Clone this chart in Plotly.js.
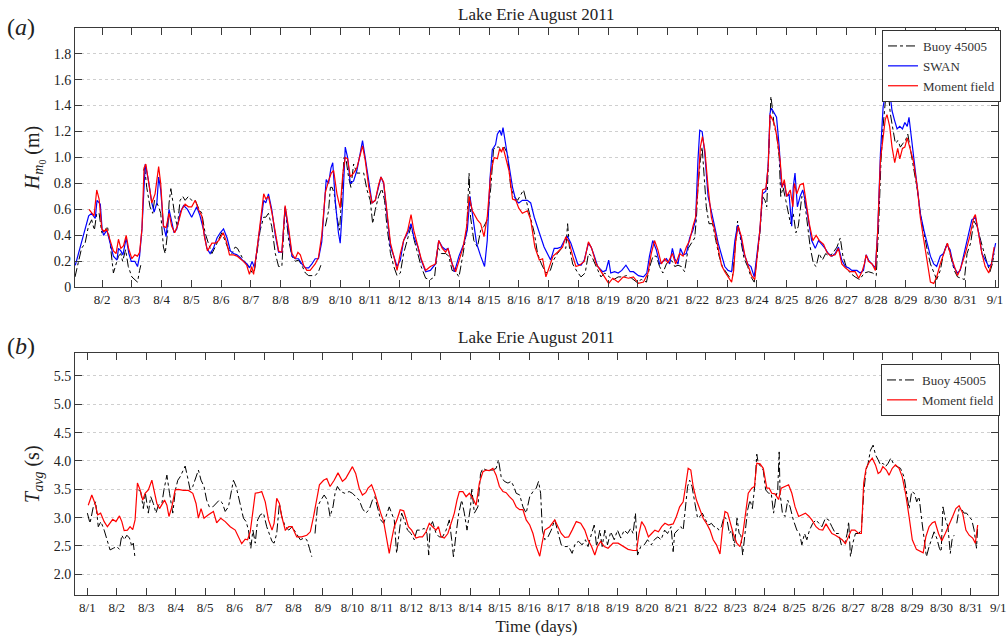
<!DOCTYPE html>
<html>
<head>
<meta charset="utf-8">
<script src="https://cdn.plot.ly/plotly-3.0.1.min.js"></script>
<style>
  html, body { margin: 0; padding: 0; background: #fff; }
  #chart { width: 1007px; height: 638px; }
</style>
</head>
<body>
<div id="chart"></div>
<script>
// ---- Data (x = days since 8/1 00:00) ----
const chartTitle = "Lake Erie August 2011";
const topTickVals = [1,2,3,4,5,6,7,8,9,10,11,12,13,14,15,16,17,18,19,20,21,22,23,24,25,26,27,28,29,30,31];
const topTickText = ["8/2","8/3","8/4","8/5","8/6","8/7","8/8","8/9","8/10","8/11","8/12","8/13","8/14","8/15","8/16","8/17","8/18","8/19","8/20","8/21","8/22","8/23","8/24","8/25","8/26","8/27","8/28","8/29","8/30","8/31","9/1"];
const botTickVals = [0,1,2,3,4,5,6,7,8,9,10,11,12,13,14,15,16,17,18,19,20,21,22,23,24,25,26,27,28,29,30];
const botTickText = ["8/1","8/2","8/3","8/4","8/5","8/6","8/7","8/8","8/9","8/10","8/11","8/12","8/13","8/14","8/15","8/16","8/17","8/18","8/19","8/20","8/21","8/22","8/23","8/24","8/25","8/26","8/27","8/28","8/29","8/30","8/31"];
const botLastTickText = "9/1";
const hTickVals = [0,0.2,0.4,0.6,0.8,1.0,1.2,1.4,1.6,1.8];
const hTickText = ["0","0.2","0.4","0.6","0.8","1.0","1.2","1.4","1.6","1.8"];
const tTickVals = [2.0,2.5,3.0,3.5,4.0,4.5,5.0,5.5];
const tTickText = ["2.0","2.5","3.0","3.5","4.0","4.5","5.0","5.5"];

// Panel (a): significant wave height Hm0 (m)
const hSwan = [[0.1,0.17],[0.25,0.3],[0.38,0.4],[0.55,0.55],[0.65,0.57],[0.77,0.53],[0.83,0.67],[0.94,0.64],[1.0,0.45],[1.05,0.4],[1.16,0.44],[1.27,0.35],[1.38,0.24],[1.5,0.21],[1.55,0.3],[1.63,0.28],[1.7,0.25],[1.81,0.38],[1.9,0.26],[1.98,0.2],[2.1,0.2],[2.19,0.16],[2.26,0.24],[2.34,0.45],[2.45,0.95],[2.56,0.82],[2.67,0.65],[2.75,0.58],[2.84,0.65],[2.9,0.85],[2.97,0.75],[3.06,0.48],[3.15,0.39],[3.25,0.6],[3.34,0.5],[3.42,0.42],[3.51,0.45],[3.63,0.58],[3.74,0.63],[3.87,0.6],[4.01,0.54],[4.13,0.6],[4.18,0.62],[4.29,0.55],[4.4,0.45],[4.52,0.3],[4.63,0.26],[4.74,0.3],[4.86,0.38],[4.97,0.42],[5.08,0.45],[5.2,0.38],[5.31,0.28],[5.42,0.26],[5.53,0.25],[5.64,0.23],[5.75,0.2],[5.87,0.18],[5.96,0.15],[6.04,0.2],[6.12,0.15],[6.21,0.3],[6.32,0.5],[6.43,0.67],[6.5,0.65],[6.59,0.72],[6.7,0.6],[6.82,0.4],[6.93,0.27],[7.04,0.27],[7.15,0.62],[7.27,0.4],[7.38,0.24],[7.49,0.22],[7.6,0.22],[7.71,0.18],[7.83,0.15],[7.94,0.15],[8.05,0.18],[8.16,0.22],[8.27,0.22],[8.38,0.35],[8.53,0.83],[8.61,0.8],[8.69,0.92],[8.75,0.96],[8.84,0.65],[8.94,0.42],[9.0,0.34],[9.09,0.67],[9.17,1.08],[9.25,1.0],[9.34,0.8],[9.45,0.82],[9.56,0.9],[9.67,1.03],[9.75,1.13],[9.84,1.0],[9.96,0.8],[10.07,0.65],[10.18,0.67],[10.29,0.77],[10.37,0.85],[10.46,0.8],[10.57,0.54],[10.69,0.31],[10.8,0.24],[10.91,0.16],[11.02,0.21],[11.13,0.36],[11.27,0.42],[11.38,0.49],[11.47,0.39],[11.61,0.31],[11.72,0.21],[11.87,0.12],[12.03,0.13],[12.2,0.18],[12.31,0.36],[12.43,0.31],[12.54,0.29],[12.62,0.3],[12.73,0.21],[12.84,0.12],[12.99,0.24],[13.16,0.34],[13.27,0.44],[13.36,0.7],[13.47,0.52],[13.58,0.34],[13.72,0.24],[13.85,0.16],[13.94,0.36],[14.03,0.83],[14.11,1.06],[14.22,1.1],[14.28,1.18],[14.36,1.21],[14.42,1.17],[14.47,1.23],[14.56,1.1],[14.67,0.95],[14.79,0.77],[14.9,0.67],[15.0,0.65],[15.12,0.67],[15.29,0.67],[15.4,0.65],[15.52,0.54],[15.69,0.42],[15.85,0.31],[16.07,0.21],[16.19,0.3],[16.3,0.3],[16.42,0.31],[16.53,0.36],[16.64,0.39],[16.75,0.34],[16.87,0.26],[16.98,0.18],[17.09,0.17],[17.2,0.21],[17.34,0.34],[17.43,0.31],[17.54,0.24],[17.65,0.16],[17.82,0.12],[17.93,0.13],[18.02,0.21],[18.09,0.11],[18.22,0.12],[18.34,0.11],[18.46,0.13],[18.6,0.17],[18.74,0.12],[18.85,0.12],[19.02,0.09],[19.19,0.08],[19.3,0.11],[19.39,0.24],[19.5,0.36],[19.62,0.29],[19.73,0.18],[19.84,0.2],[19.96,0.22],[20.07,0.18],[20.16,0.3],[20.24,0.22],[20.35,0.18],[20.43,0.3],[20.52,0.25],[20.63,0.26],[20.74,0.38],[20.85,0.44],[20.94,0.52],[21.02,0.98],[21.08,1.21],[21.16,1.2],[21.25,1.03],[21.36,0.7],[21.47,0.57],[21.58,0.47],[21.7,0.34],[21.81,0.24],[21.92,0.16],[22.03,0.13],[22.15,0.12],[22.26,0.36],[22.35,0.48],[22.46,0.39],[22.57,0.26],[22.69,0.18],[22.8,0.16],[22.91,0.08],[23.02,0.31],[23.1,0.44],[23.19,0.72],[23.3,0.74],[23.38,0.95],[23.44,1.34],[23.49,1.38],[23.57,1.35],[23.66,1.31],[23.75,1.08],[23.83,0.77],[23.91,0.81],[24.0,0.7],[24.08,0.72],[24.17,0.47],[24.22,0.77],[24.28,0.88],[24.36,0.62],[24.45,0.7],[24.54,0.75],[24.62,0.67],[24.73,0.52],[24.84,0.36],[24.96,0.3],[25.07,0.36],[25.18,0.33],[25.29,0.3],[25.4,0.26],[25.52,0.24],[25.63,0.26],[25.74,0.31],[25.85,0.21],[25.97,0.16],[26.08,0.15],[26.19,0.13],[26.36,0.13],[26.47,0.11],[26.58,0.13],[26.67,0.25],[26.75,0.21],[26.87,0.18],[26.98,0.15],[27.06,0.44],[27.15,1.03],[27.24,1.39],[27.31,1.49],[27.37,1.56],[27.45,1.53],[27.54,1.36],[27.62,1.29],[27.71,1.22],[27.8,1.24],[27.89,1.22],[27.97,1.27],[28.05,1.24],[28.11,1.31],[28.19,1.16],[28.28,0.98],[28.39,0.77],[28.49,0.57],[28.61,0.44],[28.72,0.34],[28.83,0.24],[28.94,0.18],[29.04,0.16],[29.16,0.24],[29.27,0.26],[29.38,0.33],[29.49,0.29],[29.61,0.16],[29.74,0.11],[29.83,0.13],[29.94,0.24],[30.06,0.34],[30.22,0.52],[30.34,0.54],[30.45,0.42],[30.56,0.26],[30.67,0.21],[30.79,0.16],[30.88,0.18],[30.94,0.26],[31.02,0.34]];

const hMoment = [[0.56,0.6],[0.65,0.57],[0.73,0.55],[0.82,0.75],[0.9,0.68],[0.99,0.45],[1.07,0.43],[1.15,0.45],[1.27,0.36],[1.38,0.28],[1.47,0.26],[1.55,0.37],[1.63,0.3],[1.72,0.32],[1.81,0.4],[1.89,0.3],[2.0,0.22],[2.1,0.25],[2.19,0.24],[2.26,0.27],[2.34,0.45],[2.41,0.92],[2.47,0.95],[2.56,0.83],[2.67,0.65],[2.78,0.72],[2.9,0.93],[2.97,0.8],[3.06,0.47],[3.15,0.46],[3.25,0.57],[3.34,0.47],[3.44,0.42],[3.54,0.48],[3.68,0.6],[3.79,0.64],[3.9,0.62],[4.01,0.62],[4.13,0.67],[4.24,0.6],[4.35,0.55],[4.43,0.4],[4.54,0.28],[4.69,0.34],[4.81,0.34],[4.92,0.36],[5.07,0.42],[5.18,0.35],[5.28,0.25],[5.42,0.25],[5.53,0.24],[5.64,0.22],[5.75,0.2],[5.86,0.17],[5.95,0.1],[6.03,0.16],[6.09,0.1],[6.21,0.3],[6.32,0.5],[6.43,0.72],[6.5,0.68],[6.59,0.7],[6.71,0.57],[6.82,0.42],[6.93,0.28],[7.04,0.27],[7.15,0.63],[7.27,0.45],[7.38,0.26],[7.49,0.22],[7.58,0.27],[7.66,0.25],[7.77,0.17],[7.88,0.13],[7.99,0.13],[8.16,0.18],[8.27,0.23],[8.38,0.4],[8.5,0.73],[8.61,0.82],[8.7,0.88],[8.78,0.9],[8.89,0.72],[9.0,0.61],[9.09,0.88],[9.17,1.0],[9.25,0.99],[9.34,0.85],[9.45,0.88],[9.56,0.92],[9.67,1.03],[9.75,1.09],[9.84,0.98],[9.96,0.77],[10.07,0.65],[10.18,0.67],[10.29,0.79],[10.37,0.85],[10.46,0.81],[10.57,0.57],[10.69,0.34],[10.8,0.24],[10.91,0.13],[11.02,0.26],[11.13,0.36],[11.27,0.44],[11.38,0.56],[11.47,0.44],[11.61,0.31],[11.72,0.22],[11.87,0.13],[12.03,0.16],[12.2,0.18],[12.31,0.36],[12.43,0.3],[12.54,0.27],[12.62,0.3],[12.76,0.18],[12.88,0.12],[12.99,0.21],[13.13,0.31],[13.25,0.47],[13.33,0.7],[13.44,0.59],[13.61,0.52],[13.72,0.49],[13.83,0.39],[13.94,0.54],[14.06,0.88],[14.17,1.0],[14.28,0.99],[14.36,1.07],[14.42,1.04],[14.47,1.08],[14.56,1.0],[14.67,0.9],[14.79,0.68],[14.9,0.67],[15.0,0.61],[15.12,0.57],[15.29,0.59],[15.4,0.52],[15.54,0.31],[15.69,0.21],[15.8,0.22],[15.91,0.08],[16.03,0.16],[16.15,0.24],[16.3,0.27],[16.47,0.31],[16.58,0.39],[16.7,0.34],[16.81,0.24],[16.92,0.16],[17.04,0.17],[17.2,0.2],[17.34,0.35],[17.45,0.3],[17.6,0.18],[17.76,0.12],[17.88,0.08],[18.02,0.03],[18.16,0.07],[18.34,0.04],[18.51,0.08],[18.69,0.07],[18.85,0.08],[19.02,0.03],[19.19,0.04],[19.34,0.11],[19.45,0.26],[19.56,0.36],[19.67,0.29],[19.79,0.18],[19.9,0.22],[20.01,0.19],[20.16,0.26],[20.27,0.18],[20.4,0.26],[20.52,0.24],[20.63,0.31],[20.74,0.36],[20.85,0.47],[20.94,0.54],[21.02,0.77],[21.1,1.08],[21.17,1.16],[21.25,1.06],[21.36,0.77],[21.47,0.54],[21.58,0.44],[21.7,0.31],[21.81,0.17],[21.92,0.12],[22.03,0.08],[22.15,0.04],[22.22,0.13],[22.29,0.36],[22.37,0.47],[22.48,0.39],[22.6,0.24],[22.71,0.16],[22.82,0.09],[22.93,0.06],[23.02,0.29],[23.1,0.44],[23.19,0.75],[23.3,0.76],[23.38,0.93],[23.44,1.33],[23.53,1.29],[23.61,1.24],[23.69,1.13],[23.78,0.98],[23.85,0.77],[23.92,0.83],[24.0,0.7],[24.12,0.75],[24.21,0.62],[24.26,0.8],[24.34,0.72],[24.45,0.79],[24.56,0.8],[24.65,0.67],[24.76,0.49],[24.88,0.36],[24.99,0.4],[25.1,0.36],[25.24,0.33],[25.35,0.27],[25.48,0.24],[25.63,0.25],[25.74,0.3],[25.85,0.18],[25.97,0.15],[26.13,0.12],[26.3,0.12],[26.42,0.07],[26.53,0.12],[26.61,0.18],[26.67,0.25],[26.75,0.2],[26.87,0.18],[26.98,0.13],[27.06,0.44],[27.15,0.98],[27.24,1.18],[27.31,1.29],[27.37,1.33],[27.46,1.24],[27.54,1.08],[27.63,0.96],[27.73,1.07],[27.8,0.99],[27.89,1.07],[27.97,1.08],[28.05,1.15],[28.13,1.08],[28.25,0.98],[28.39,0.77],[28.49,0.54],[28.61,0.36],[28.72,0.18],[28.83,0.04],[28.94,0.03],[29.04,0.08],[29.16,0.18],[29.27,0.26],[29.4,0.34],[29.52,0.24],[29.63,0.16],[29.74,0.09],[29.85,0.15],[30.0,0.26],[30.15,0.39],[30.29,0.54],[30.34,0.56],[30.45,0.42],[30.56,0.26],[30.67,0.16],[30.79,0.11],[30.88,0.18],[30.97,0.31]];

const hBuoy = [[0.09,0.08],[0.2,0.18],[0.31,0.3],[0.43,0.34],[0.54,0.47],[0.65,0.52],[0.74,0.44],[0.82,0.57],[0.9,0.57],[0.99,0.42],[1.1,0.44],[1.18,0.47],[1.27,0.34],[1.38,0.11],[1.47,0.18],[1.55,0.24],[1.63,0.26],[1.69,0.2],[1.79,0.29],[1.88,0.16],[2.0,0.08],[2.1,0.06],[2.19,0.04],[2.26,0.13],[2.3,0.17],[2.33,null],[2.39,0.9],[2.43,0.92],[2.5,0.77],[2.56,0.67],[2.61,0.62],[2.7,0.57],[2.76,0.67],[2.84,0.65],[2.9,0.62],[2.97,0.57],[3.06,0.31],[3.12,0.26],[3.2,0.42],[3.25,0.65],[3.31,0.76],[3.37,0.67],[3.45,0.54],[3.53,0.47],[3.62,0.67],[3.71,0.7],[3.79,0.67],[3.9,0.7],[4.01,0.67],[4.13,0.67],[4.24,0.61],[4.35,0.57],[4.46,0.42],[4.57,0.34],[4.69,0.26],[4.8,0.31],[4.91,0.36],[5.02,0.42],[5.13,0.36],[5.25,0.29],[5.36,0.26],[5.47,0.31],[5.55,0.3],[5.64,0.26],[5.75,0.21],[5.86,0.18],[5.98,0.13],[6.05,0.11],[6.12,0.13],[6.2,0.26],[6.31,0.44],[6.43,0.54],[6.5,0.54],[6.59,0.57],[6.7,0.47],[6.82,0.26],[6.93,0.16],[7.04,0.16],[7.15,0.62],[7.27,0.36],[7.38,0.24],[7.49,0.2],[7.6,0.21],[7.71,0.17],[7.83,0.11],[7.94,0.09],[8.05,0.09],[8.16,0.09],[8.27,0.12],[8.35,0.17],[8.42,null],[8.5,0.47],[8.61,0.59],[8.67,0.77],[8.73,0.77],[8.8,0.72],[8.89,0.54],[8.98,0.44],[9.06,0.72],[9.13,1.0],[9.2,0.98],[9.28,0.85],[9.36,0.77],[9.45,0.95],[9.56,0.88],[9.67,0.88],[9.79,0.88],[9.9,0.75],[10.01,0.67],[10.09,0.49],[10.18,0.6],[10.29,0.7],[10.4,0.76],[10.49,0.67],[10.57,0.47],[10.69,0.26],[10.8,0.16],[10.91,0.09],[11.02,0.11],[11.13,0.26],[11.27,0.39],[11.38,0.47],[11.49,0.36],[11.61,0.26],[11.72,0.16],[11.87,0.07],[12.03,0.06],[12.17,0.08],[12.28,0.31],[12.4,0.26],[12.54,0.26],[12.65,0.24],[12.76,0.13],[12.88,0.12],[12.99,0.08],[13.13,0.26],[13.25,0.44],[13.33,0.88],[13.38,0.54],[13.49,0.36],[13.61,0.31],[13.72,0.44],[13.83,0.47],[13.94,0.52],[14.06,0.77],[14.15,1.06],[14.22,1.08],[14.33,1.08],[14.42,1.06],[14.51,1.08],[14.62,1.03],[14.73,0.77],[14.84,0.7],[14.96,0.67],[15.07,0.72],[15.16,0.75],[15.27,0.65],[15.38,0.54],[15.52,0.42],[15.63,0.26],[15.76,0.18],[15.91,0.11],[16.06,0.13],[16.17,0.21],[16.3,0.26],[16.47,0.31],[16.58,0.3],[16.64,0.49],[16.7,0.31],[16.81,0.18],[16.96,0.12],[17.09,0.08],[17.23,0.11],[17.34,0.26],[17.45,0.24],[17.6,0.16],[17.76,0.08],[17.89,0.11],[18.04,0.08],[18.19,0.06],[18.34,0.08],[18.47,0.08],[18.62,0.09],[18.79,0.07],[18.96,0.04],[19.12,0.06],[19.29,0.04],[19.4,0.16],[19.51,0.24],[19.62,0.24],[19.73,0.16],[19.84,0.11],[19.96,0.18],[20.07,0.21],[20.16,0.2],[20.24,0.16],[20.35,0.17],[20.46,0.16],[20.57,0.12],[20.69,0.3],[20.8,0.34],[20.91,0.38],[20.97,0.54],[21.02,0.77],[21.1,0.98],[21.16,1.08],[21.22,0.88],[21.3,0.62],[21.39,0.49],[21.51,0.49],[21.62,0.36],[21.73,0.24],[21.84,0.16],[21.96,0.12],[22.07,0.08],[22.18,0.08],[22.26,0.31],[22.35,0.51],[22.46,0.36],[22.57,0.22],[22.69,0.16],[22.8,0.08],[22.91,0.04],[23.02,0.24],[23.1,0.42],[23.19,0.7],[23.27,0.67],[23.33,0.62],[23.38,0.93],[23.44,1.34],[23.47,1.47],[23.53,1.36],[23.58,1.24],[23.66,1.18],[23.75,1.0],[23.8,0.7],[23.88,0.77],[23.97,0.67],[24.06,0.57],[24.13,0.49],[24.22,0.57],[24.31,0.42],[24.39,0.47],[24.51,0.7],[24.6,0.67],[24.67,0.54],[24.79,0.31],[24.9,0.18],[24.99,0.16],[25.09,0.26],[25.2,0.21],[25.31,0.26],[25.43,0.24],[25.54,0.26],[25.69,0.31],[25.8,0.38],[25.89,0.24],[26.0,0.16],[26.13,0.11],[26.3,0.08],[26.45,0.06],[26.61,0.11],[26.75,0.12],[26.89,0.11],[27.01,0.09],[27.09,0.47],[27.17,0.98],[27.24,1.24],[27.31,1.42],[27.37,1.49],[27.43,1.47],[27.48,1.34],[27.56,1.24],[27.65,1.11],[27.74,1.13],[27.82,1.08],[27.91,1.11],[27.99,1.13],[28.07,1.18],[28.16,1.06],[28.28,0.93],[28.39,0.75],[28.49,0.57],[28.61,0.42],[28.72,0.29],[28.83,0.18],[28.94,0.11],[29.04,0.06],[29.16,0.13],[29.27,0.26],[29.4,0.34],[29.52,0.24],[29.63,0.13],[29.74,0.08],[29.85,0.07],[29.97,0.06],[30.06,0.26],[30.18,0.34],[30.29,0.51],[30.4,0.47],[30.52,0.36],[30.63,0.26],[30.74,0.18],[30.83,0.12],[30.91,0.18],[30.97,0.26]];

// Panel (b): average period Tavg (s)
const tMoment = [[0.03,3.22],[0.15,3.4],[0.26,3.25],[0.35,3.05],[0.45,3.08],[0.57,2.93],[0.68,2.84],[0.77,2.9],[0.86,2.97],[0.97,2.93],[1.09,3.03],[1.17,2.93],[1.25,2.77],[1.36,2.78],[1.45,2.84],[1.54,2.79],[1.62,2.96],[1.7,3.61],[1.79,3.49],[1.88,3.31],[1.96,3.43],[2.07,3.49],[2.19,3.66],[2.26,3.49],[2.36,3.25],[2.45,3.16],[2.53,3.22],[2.62,3.31],[2.7,3.22],[2.77,3.02],[2.87,3.19],[2.98,3.49],[3.09,3.5],[3.26,3.48],[3.43,3.48],[3.58,3.43],[3.69,3.25],[3.77,2.99],[3.86,3.16],[3.96,2.99],[4.11,3.05],[4.28,3.11],[4.39,2.91],[4.53,2.99],[4.68,2.93],[4.85,2.84],[5.02,2.78],[5.13,2.66],[5.24,2.54],[5.36,2.62],[5.44,2.61],[5.53,2.75],[5.62,3.08],[5.7,3.43],[5.81,3.44],[5.92,3.46],[6.04,3.28],[6.15,2.96],[6.27,2.78],[6.34,2.9],[6.43,3.34],[6.52,3.25],[6.6,3.02],[6.72,2.78],[6.84,2.84],[6.95,2.84],[7.11,2.66],[7.28,2.66],[7.45,2.69],[7.57,2.75],[7.68,3.02],[7.79,3.37],[7.88,3.58],[8.02,3.66],[8.13,3.69],[8.24,3.55],[8.38,3.66],[8.51,3.79],[8.66,3.64],[8.77,3.69],[8.89,3.81],[9.0,3.9],[9.11,3.78],[9.23,3.52],[9.34,3.4],[9.45,3.44],[9.53,3.52],[9.65,3.58],[9.76,3.43],[9.85,3.25],[9.96,3.08],[10.06,2.93],[10.17,2.61],[10.25,2.37],[10.33,2.61],[10.42,2.84],[10.53,2.99],[10.62,3.14],[10.74,3.12],[10.82,2.96],[10.9,2.84],[11.01,2.78],[11.16,2.64],[11.27,2.66],[11.38,2.66],[11.5,2.75],[11.61,2.9],[11.72,2.84],[11.84,2.78],[11.92,2.84],[12.01,2.66],[12.12,2.64],[12.24,2.72],[12.35,2.9],[12.46,3.08],[12.55,3.31],[12.63,3.46],[12.75,3.46],[12.86,3.37],[12.97,3.43],[13.09,3.34],[13.2,3.22],[13.31,3.61],[13.43,3.81],[13.54,3.84],[13.65,3.83],[13.77,3.87],[13.88,3.75],[13.99,3.55],[14.11,3.46],[14.22,3.44],[14.33,3.37],[14.45,3.31],[14.56,3.19],[14.68,3.14],[14.79,3.14],[14.9,2.96],[15.02,2.87],[15.13,2.72],[15.24,2.49],[15.36,2.32],[15.44,2.55],[15.53,2.78],[15.7,2.84],[15.87,2.96],[15.98,2.84],[16.09,2.72],[16.21,2.65],[16.34,2.66],[16.46,2.78],[16.6,2.93],[16.75,2.9],[16.89,2.78],[17.0,2.61],[17.12,2.49],[17.23,2.34],[17.32,2.49],[17.43,2.58],[17.55,2.49],[17.68,2.46],[17.85,2.55],[18.02,2.55],[18.19,2.49],[18.36,2.44],[18.53,2.42],[18.65,2.42],[18.73,2.72],[18.82,2.93],[18.93,2.84],[19.05,2.66],[19.16,2.72],[19.27,2.78],[19.39,2.75],[19.5,2.84],[19.61,2.9],[19.73,2.87],[19.89,2.89],[20.0,3.02],[20.11,3.19],[20.23,3.28],[20.31,3.55],[20.4,3.87],[20.49,3.84],[20.57,3.55],[20.68,3.31],[20.8,3.14],[20.91,2.99],[21.02,2.9],[21.14,2.78],[21.25,2.61],[21.36,2.52],[21.48,2.36],[21.56,2.78],[21.65,3.11],[21.74,3.08],[21.82,2.93],[21.93,2.72],[22.05,2.55],[22.16,2.49],[22.25,2.69],[22.33,3.02],[22.44,3.43],[22.56,3.52],[22.65,3.55],[22.73,3.96],[22.84,3.95],[22.95,3.87],[23.07,3.52],[23.15,3.52],[23.24,3.43],[23.35,3.42],[23.47,3.32],[23.56,3.52],[23.69,3.55],[23.81,3.58],[23.92,3.43],[24.03,3.19],[24.15,3.02],[24.26,3.05],[24.38,3.08],[24.49,3.03],[24.6,2.96],[24.74,2.84],[24.85,2.79],[24.97,2.78],[25.08,2.89],[25.17,2.81],[25.28,2.72],[25.4,2.69],[25.51,2.65],[25.63,2.61],[25.74,2.54],[25.83,2.66],[25.94,2.78],[26.06,2.78],[26.19,2.72],[26.28,2.72],[26.36,3.61],[26.44,3.87],[26.56,3.99],[26.65,4.05],[26.76,3.93],[26.85,3.78],[26.93,3.81],[27.01,3.9],[27.13,3.84],[27.22,3.75],[27.33,3.87],[27.44,3.93],[27.56,3.87],[27.67,3.72],[27.78,3.43],[27.9,3.02],[28.01,2.61],[28.15,2.44],[28.3,2.4],[28.38,2.38],[28.47,2.66],[28.58,2.84],[28.69,2.91],[28.78,2.93],[28.9,2.72],[29.01,2.59],[29.13,2.72],[29.24,2.84],[29.38,3.02],[29.49,3.16],[29.6,3.21],[29.72,3.08],[29.83,2.78],[29.94,2.69],[30.06,2.64],[30.15,2.55],[30.2,2.78],[30.23,2.87]];

const tBuoy = [[0.0,3.08],[0.09,2.9],[0.2,3.19],[0.28,3.28],[0.37,2.84],[0.46,2.93],[0.57,2.78],[0.66,2.64],[0.77,2.43],[0.88,2.46],[1.0,2.49],[1.09,2.44],[1.17,2.69],[1.25,2.61],[1.34,2.69],[1.43,2.64],[1.51,2.49],[1.56,2.55],[1.62,2.28],[1.67,null],[1.73,3.49],[1.81,3.46],[1.9,3.16],[1.97,3.43],[2.07,3.08],[2.15,3.37],[2.24,3.25],[2.33,3.08],[2.41,3.22],[2.53,3.25],[2.6,3.49],[2.7,3.75],[2.79,3.43],[2.9,3.08],[2.99,3.49],[3.07,3.66],[3.15,3.72],[3.24,3.81],[3.32,3.91],[3.4,3.72],[3.49,3.49],[3.58,3.55],[3.68,3.72],[3.77,3.84],[3.86,3.66],[3.96,3.55],[4.05,3.31],[4.14,3.19],[4.26,3.19],[4.37,3.25],[4.48,3.31],[4.58,3.26],[4.68,3.11],[4.79,3.19],[4.88,3.43],[4.96,3.66],[5.05,3.55],[5.13,3.37],[5.21,3.14],[5.3,2.99],[5.39,2.93],[5.47,2.78],[5.55,2.46],[5.62,2.78],[5.7,2.55],[5.78,2.96],[5.87,3.05],[5.98,3.08],[6.09,2.84],[6.18,2.72],[6.27,2.58],[6.34,2.55],[6.43,2.72],[6.52,3.25],[6.6,3.02],[6.72,2.84],[6.84,2.78],[6.95,2.84],[7.1,2.72],[7.23,2.61],[7.36,2.64],[7.45,2.61],[7.54,2.46],[7.62,2.31],[7.68,null],[7.73,2.72],[7.81,3.19],[7.93,3.31],[8.04,3.4],[8.15,3.31],[8.24,3.02],[8.34,3.19],[8.41,3.43],[8.49,3.55],[8.6,3.46],[8.74,3.43],[8.89,3.46],[9.0,3.43],[9.11,3.37],[9.23,3.31],[9.34,3.16],[9.45,3.08],[9.57,3.14],[9.68,3.31],[9.76,3.37],[9.85,3.19],[9.96,2.96],[10.06,2.9],[10.17,3.08],[10.25,3.19],[10.33,3.08],[10.42,2.96],[10.5,2.37],[10.59,2.78],[10.67,3.08],[10.76,2.96],[10.87,2.78],[10.99,2.72],[11.1,2.61],[11.19,2.78],[11.3,2.78],[11.44,2.81],[11.53,2.72],[11.59,2.34],[11.64,2.84],[11.72,2.93],[11.84,2.72],[11.95,2.66],[12.06,2.66],[12.18,2.78],[12.29,2.96],[12.37,2.61],[12.43,2.31],[12.52,2.72],[12.61,3.08],[12.71,3.31],[12.8,3.08],[12.89,2.78],[13.01,3.19],[13.05,3.52],[13.14,3.08],[13.26,3.19],[13.35,3.78],[13.43,3.87],[13.54,3.84],[13.65,3.84],[13.77,3.84],[13.88,3.87],[13.96,4.02],[14.05,3.72],[14.16,3.64],[14.28,3.61],[14.39,3.64],[14.48,3.55],[14.56,3.43],[14.68,3.4],[14.79,3.19],[14.9,3.08],[15.02,3.37],[15.13,3.46],[15.24,3.52],[15.32,3.64],[15.39,3.43],[15.45,2.78],[15.53,2.61],[15.64,2.66],[15.75,2.78],[15.87,2.96],[15.98,2.72],[16.09,2.52],[16.21,2.49],[16.34,2.49],[16.46,2.37],[16.57,2.55],[16.68,2.58],[16.8,2.52],[16.91,2.61],[17.0,2.49],[17.12,2.72],[17.21,2.87],[17.29,2.49],[17.4,2.78],[17.48,2.49],[17.57,2.78],[17.66,2.52],[17.77,2.75],[17.89,2.61],[18.0,2.78],[18.11,2.64],[18.23,2.78],[18.34,2.72],[18.45,2.81],[18.53,2.72],[18.61,3.08],[18.68,2.34],[18.79,2.49],[18.91,2.52],[19.02,2.61],[19.15,2.52],[19.25,2.61],[19.37,2.66],[19.48,2.61],[19.6,2.78],[19.7,2.72],[19.82,2.84],[19.89,2.4],[19.94,2.72],[20.06,2.78],[20.15,2.84],[20.23,2.78],[20.28,3.08],[20.38,3.55],[20.45,3.66],[20.53,3.55],[20.63,3.25],[20.72,2.99],[20.8,3.02],[20.88,3.08],[20.99,2.96],[21.1,2.87],[21.19,2.9],[21.28,2.84],[21.36,2.84],[21.44,2.78],[21.53,2.84],[21.62,3.02],[21.72,2.96],[21.8,2.72],[21.88,2.78],[21.97,2.49],[22.06,2.99],[22.13,2.72],[22.19,2.69],[22.25,2.34],[22.33,2.72],[22.42,3.14],[22.5,3.31],[22.58,3.16],[22.67,3.61],[22.73,4.12],[22.78,3.96],[22.88,3.9],[22.95,3.84],[23.03,3.49],[23.13,3.43],[23.22,3.43],[23.3,3.08],[23.38,3.37],[23.44,3.49],[23.49,4.16],[23.52,3.43],[23.6,3.08],[23.69,3.02],[23.78,3.31],[23.86,3.19],[23.97,2.96],[24.09,2.78],[24.18,2.72],[24.26,2.52],[24.35,2.72],[24.43,2.61],[24.52,2.78],[24.63,2.9],[24.74,2.96],[24.83,2.9],[24.94,2.84],[25.06,2.99],[25.17,2.96],[25.28,2.84],[25.4,2.72],[25.51,2.72],[25.6,2.52],[25.72,2.55],[25.8,2.72],[25.85,2.93],[25.91,2.31],[25.99,2.55],[26.08,2.72],[26.19,2.72],[26.28,2.78],[26.36,3.43],[26.44,3.84],[26.51,3.96],[26.59,4.19],[26.68,4.28],[26.76,4.11],[26.85,4.02],[26.93,3.93],[27.01,3.96],[27.1,3.9],[27.19,3.96],[27.28,4.05],[27.39,3.93],[27.5,3.9],[27.61,3.87],[27.73,3.72],[27.82,3.43],[27.9,3.16],[27.99,3.46],[28.08,3.43],[28.16,3.28],[28.24,3.37],[28.33,2.96],[28.41,2.61],[28.49,2.31],[28.58,2.49],[28.67,2.61],[28.75,2.75],[28.84,2.64],[28.93,2.46],[28.99,2.4],[29.05,3.19],[29.14,2.96],[29.22,2.84],[29.3,2.37],[29.36,2.61],[29.43,2.69],[29.48,null],[29.52,2.9],[29.6,3.16],[29.69,3.14],[29.77,3.08],[29.85,3.08],[29.94,3.02],[30.03,2.96],[30.11,2.78],[30.19,2.46],[30.23,2.84]];

// ---- Styling ----
const serif = "'Liberation Serif', 'Times New Roman', serif";
const axisColor = "#3a3a3a";
const xs = a => a.map(p => p[0]);
const ys = a => a.map(p => p[1]);

const traces = [
  {x: xs(hBuoy), y: ys(hBuoy), xaxis: "x", yaxis: "y", name: "Buoy 45005", mode: "lines",
   line: {color: "#000", width: 1, dash: "dashdot"}, connectgaps: false, legend: "legend"},
  {x: xs(hSwan), y: ys(hSwan), xaxis: "x", yaxis: "y", name: "SWAN", mode: "lines",
   line: {color: "#0000ff", width: 1.2}, legend: "legend"},
  {x: xs(hMoment), y: ys(hMoment), xaxis: "x", yaxis: "y", name: "Moment field", mode: "lines",
   line: {color: "#ff0000", width: 1.2}, legend: "legend"},
  {x: xs(tBuoy), y: ys(tBuoy), xaxis: "x2", yaxis: "y2", name: "Buoy 45005", mode: "lines",
   line: {color: "#000", width: 1, dash: "dashdot"}, connectgaps: false, legend: "legend2"},
  {x: xs(tMoment), y: ys(tMoment), xaxis: "x2", yaxis: "y2", name: "Moment field", mode: "lines",
   line: {color: "#ff0000", width: 1.2}, legend: "legend2"}
];

const commonAxis = {
  showline: true, linecolor: axisColor, linewidth: 1, mirror: "ticks",
  ticks: "inside", ticklen: 7, tickcolor: axisColor, tickwidth: 1,
  zeroline: false, tickfont: {family: serif, size: 13, color: "#222"}
};

const xDom = [75/1007, 998/1007];
const layout = {
  width: 1007, height: 638,
  margin: {l: 0, r: 0, t: 0, b: 0},
  paper_bgcolor: "#fff", plot_bgcolor: "#fff",
  font: {family: serif, color: "#222"},
  showlegend: true,
  xaxis: Object.assign({}, commonAxis, {domain: xDom, anchor: "y", range: [0.09, 31.1],
    tickmode: "array", tickvals: topTickVals, ticktext: topTickText, showgrid: false}),
  yaxis: Object.assign({}, commonAxis, {domain: [1 - 287.3/638, 1 - 27.7/638], anchor: "x", range: [0, 2.0],
    tickmode: "array", tickvals: hTickVals, ticktext: hTickText,
    tickfont: {family: serif, size: 14, color: "#222"},
    showgrid: true, gridcolor: "#cfcfcf", griddash: "dot", gridwidth: 1,
    title: {text: "<i>H</i><sub><i>m</i><sub>0</sub></sub> (m)", font: {family: serif, size: 20, color: "#222"}, standoff: 8}}),
  xaxis2: Object.assign({}, commonAxis, {domain: xDom, anchor: "y2", range: [-0.42, 30.92],
    tickmode: "array", tickvals: botTickVals, ticktext: botTickText, showgrid: false,
    title: {text: "Time (days)", font: {family: serif, size: 17, color: "#222"}, standoff: 6}}),
  yaxis2: Object.assign({}, commonAxis, {domain: [1 - 595/638, 1 - 353.3/638], anchor: "x2", range: [1.635, 5.9],
    tickmode: "array", tickvals: tTickVals, ticktext: tTickText,
    tickfont: {family: serif, size: 14, color: "#222"},
    showgrid: true, gridcolor: "#cfcfcf", griddash: "dot", gridwidth: 1,
    title: {text: "<i>T</i><sub><i>avg</i></sub> (s)", font: {family: serif, size: 20, color: "#222"}, standoff: 8}}),
  legend: {x: 882/1007, y: 1 - 30/638, xanchor: "left", yanchor: "top",
    bgcolor: "#fff", bordercolor: "#333", borderwidth: 1,
    font: {family: serif, size: 13, color: "#333"}, itemwidth: 30, tracegroupgap: 0},
  legend2: {x: 881/1007, y: 1 - 364/638, xanchor: "left", yanchor: "top",
    bgcolor: "#fff", bordercolor: "#333", borderwidth: 1,
    font: {family: serif, size: 13, color: "#333"}, itemwidth: 30, tracegroupgap: 0},
  annotations: [
    {text: chartTitle, xref: "paper", yref: "paper", x: 536.5/1007, y: 1 - 14/638, showarrow: false,
     font: {family: serif, size: 17, color: "#222"}, xanchor: "center", yanchor: "middle"},
    {text: chartTitle, xref: "paper", yref: "paper", x: 536.5/1007, y: 1 - 337/638, showarrow: false,
     font: {family: serif, size: 17, color: "#222"}, xanchor: "center", yanchor: "middle"},
    {text: "(<i>a</i>)", xref: "paper", yref: "paper", x: 21/1007, y: 1 - 27/638, showarrow: false,
     font: {family: serif, size: 24, color: "#222"}, xanchor: "center", yanchor: "middle"},
    {text: "(<i>b</i>)", xref: "paper", yref: "paper", x: 21/1007, y: 1 - 346/638, showarrow: false,
     font: {family: serif, size: 24, color: "#222"}, xanchor: "center", yanchor: "middle"},
    {text: botLastTickText, xref: "paper", yref: "paper", x: 998/1007, y: 1 - 607/638, showarrow: false,
     font: {family: serif, size: 13, color: "#222"}, xanchor: "center", yanchor: "middle"}
  ]
};

Plotly.newPlot("chart", traces, layout, {displayModeBar: false, staticPlot: true});
</script>
</body>
</html>
